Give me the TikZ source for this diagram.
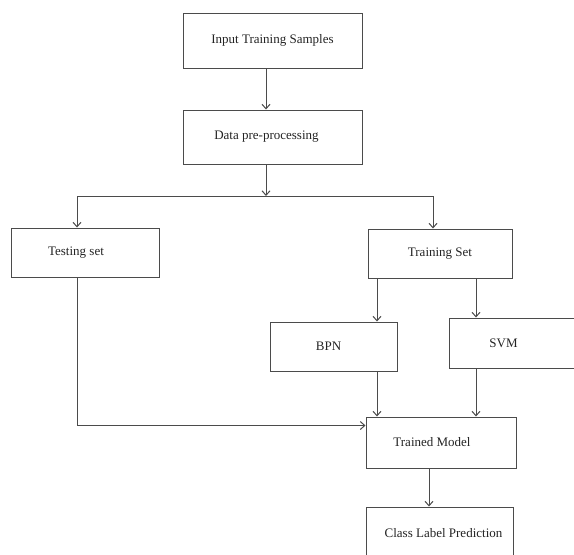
\documentclass[tikz,border=0pt]{standalone}
\usepackage{fontspec}
\setmainfont{Liberation Serif}
\usepackage{tikz}
\usetikzlibrary{arrows.meta}
\definecolor{GLine}{RGB}{75,75,75}
\definecolor{GText}{RGB}{35,35,35}

\begin{document}
\begin{tikzpicture}[
    x=1pt, y=-1pt,
    box/.style={
      draw=GLine,
      line width=1pt,
      inner sep=0pt,
      align=center,
      text=GText,
      font=\fontsize{13}{15}\selectfont
    },
    line/.style={draw=GLine, line width=1pt},
    arrow/.style={-{Straight Barb[length=4.5pt,width=8pt]}, draw=GLine, line width=1pt}
  ]
    \useasboundingbox (0,0) rectangle (574,555);

    \node[box, minimum width=179pt, minimum height=55pt] (input) at (272.5,40.5) {Input Training Samples};
    \node[box, minimum width=179pt, minimum height=54pt] (pre) at (272.5,137) {Data pre-processing\hspace*{12pt}};
    \node[box, minimum width=148pt, minimum height=49pt] (test) at (85,252.5) {Testing set\hspace*{18pt}};
    \node[box, minimum width=144pt, minimum height=49pt] (train) at (440,253.5) {Training Set};
    \node[box, minimum width=127pt, minimum height=49pt] (bpn) at (333.5,346.5) {BPN\hspace*{10pt}};
    \node[box, minimum width=129pt, minimum height=50pt] (svm) at (513.5,343) {SVM\hspace*{20pt}};
    \node[box, minimum width=150pt, minimum height=51pt] (model) at (441,442.5) {Trained Model\hspace*{18pt}};
    \node[box, minimum width=147pt, minimum height=52pt] (pred) at (439.5,533) {\hspace*{8pt}Class Label Prediction};

    \coordinate (split) at (266,196);
    \coordinate (lft) at (77,196);
    \coordinate (rgt) at (433,196);
    \coordinate (cbpn) at (377,0);
    \coordinate (csvm) at (476,0);
    \coordinate (cpred) at (429,0);

    \draw[arrow] (input.south -| split) -- (pre.north -| split);
    \draw[arrow] (pre.south -| split) -- (split);
    \draw[line] (lft) -- (rgt);
    \draw[arrow] (lft) -- (lft |- test.north);
    \draw[arrow] (rgt) -- (rgt |- train.north);
    \draw[arrow] (train.south -| cbpn) -- (bpn.north -| cbpn);
    \draw[arrow] (train.south -| csvm) -- (svm.north -| csvm);
    \draw[arrow] (bpn.south -| cbpn) -- (model.north -| cbpn);
    \draw[arrow] (svm.south -| csvm) -- (model.north -| csvm);
    \draw[arrow] (test.south -| lft) |- ([yshift=-9pt]model.north west);
    \draw[arrow] (model.south -| cpred) -- (pred.north -| cpred);
  \end{tikzpicture}
\end{document}
